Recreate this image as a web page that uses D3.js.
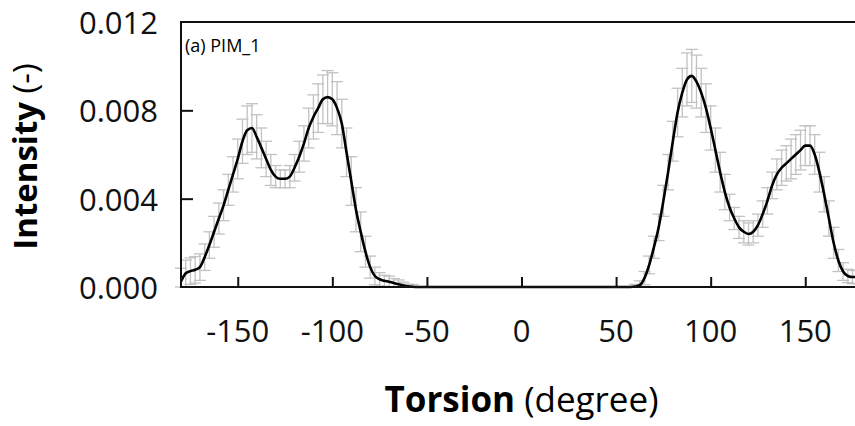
<!DOCTYPE html>
<html>
<head>
<meta charset="utf-8">
<script src="https://cdn.jsdelivr.net/npm/d3@7"></script>
<style>
	body { margin: 0; background: #fff; }
	svg { display: block; font-family: "Open Sans", sans-serif; }
</style>
</head>
<body>
<svg id="chart" width="855" height="426"></svg>
<script>
'use strict';

// torsion angle (degree) of each histogram bin
let torsion = [
	-180, -177.5, -175, -172.5, -170, -167.5, -165, -162.5, -160, -157.5,
	-155, -152.5, -150, -147.5, -145, -142.5, -140, -137.5, -135, -132.5,
	-130, -127.5, -125, -122.5, -120, -117.5, -115, -112.5, -110, -107.5,
	-105, -102.5, -100, -97.5, -95, -92.5, -90, -87.5, -85, -82.5,
	-80, -77.5, -75, -72.5, -70, -67.5, -65, -62.5, -60, -57.5, -55,
	57.5, 60, 62.5, 65, 67.5, 70, 72.5, 75, 77.5, 80,
	82.5, 85, 87.5, 90, 92.5, 95, 97.5, 100, 102.5, 105,
	107.5, 110, 112.5, 115, 117.5, 120, 122.5, 125, 127.5, 130,
	132.5, 135, 137.5, 140, 142.5, 145, 147.5, 150, 152.5, 155,
	157.5, 160, 162.5, 165, 167.5, 170, 172.5, 175, 177.5, 180
];

// mean intensity of each bin
let intensity = [
	0.00025, 0.00062, 0.00072, 0.00078, 0.00090, 0.00135, 0.0019, 0.0025, 0.0031, 0.0037,
	0.0044, 0.0051, 0.0058, 0.0066, 0.0071, 0.0072, 0.0068, 0.0063, 0.0058, 0.0053,
	0.0050, 0.0049, 0.0049, 0.0050, 0.0054, 0.0059, 0.0065, 0.0072, 0.0077, 0.0081,
	0.0085, 0.0086, 0.0085, 0.0081, 0.0074, 0.0061, 0.0048, 0.0035, 0.0025, 0.0016,
	0.0009, 0.0005, 0.00035, 0.00028, 0.00024, 0.00018, 0.00012, 0.00007, 0.00003, 0.00001, 0,
	0, 0.00002, 0.00008, 0.0004, 0.0010, 0.0018, 0.0027, 0.0039, 0.0052, 0.0066,
	0.0079, 0.0088, 0.0094, 0.00956, 0.0093, 0.0088, 0.0081, 0.0072, 0.0062, 0.0052,
	0.0043, 0.0036, 0.0031, 0.0027, 0.0025, 0.0024, 0.0025, 0.0028, 0.0033, 0.0039,
	0.0046, 0.0051, 0.0054, 0.0056, 0.0058, 0.0060, 0.0062, 0.0064, 0.0064, 0.0060,
	0.0052, 0.0042, 0.0031, 0.0020, 0.0012, 0.0007, 0.0005, 0.00045, 0.00045, 0.0004
];

// half length of each error bar
let errorHalf = [
	0.0006, 0.0006, 0.0006, 0.0006, 0.0006, 0.0006, 0.0006, 0.0007, 0.0007, 0.0007,
	0.0007, 0.0008, 0.0009, 0.0010, 0.0011, 0.0011, 0.0010, 0.0009, 0.0008, 0.0007,
	0.0005, 0.0004, 0.0004, 0.0005, 0.0006, 0.0007, 0.0008, 0.0009, 0.0010, 0.0011,
	0.0011, 0.0012, 0.0012, 0.0012, 0.0011, 0.0011, 0.0011, 0.0010, 0.0009, 0.0007,
	0.0005, 0.0004, 0.0003, 0.00025, 0.00025, 0.0002, 0.0002, 0.00015, 0.0001, 0.0001, 0,
	0, 0.0001, 0.0002, 0.0003, 0.0004, 0.0005, 0.0006, 0.0007, 0.0008, 0.0009,
	0.0011, 0.0011, 0.0012, 0.0012, 0.0012, 0.0011, 0.0011, 0.0010, 0.0010, 0.0009,
	0.0008, 0.0006, 0.0005, 0.0005, 0.0005, 0.0005, 0.0005, 0.0005, 0.0006, 0.0006,
	0.0006, 0.0007, 0.0008, 0.0008, 0.0009, 0.0009, 0.0009, 0.0009, 0.0009, 0.0009,
	0.0009, 0.0008, 0.0008, 0.0007, 0.0005, 0.0004, 0.0003, 0.0003, 0.0003, 0.0003
];

let xTicks = [-150, -100, -50, 0, 50, 100, 150];
let yTicks = [0, 0.004, 0.008, 0.012];

let svg = d3.select("#chart");

let x = d3.scaleLinear().domain([-180, 180]).range([181, 862]);
let y = d3.scaleLinear().domain([0, 0.012]).range([287, 22]);

let data = torsion.map(function(t, i){
	return { t: t, v: intensity[i], e: errorHalf[i] };
});

// error bars
let bars = svg.append("g")
	.attr("stroke", "#c2c2c2")
	.attr("stroke-width", 1.3)
	.selectAll("g")
	.data(data.filter(function(d){ return d.e > 0; }))
	.enter()
	.append("g");

let capW = 6;
bars.append("line")
	.attr("x1", function(d){ return x(d.t); })
	.attr("x2", function(d){ return x(d.t); })
	.attr("y1", function(d){ return y(Math.max(0, d.v - d.e)); })
	.attr("y2", function(d){ return y(d.v + d.e); });
bars.append("line")
	.attr("x1", function(d){ return x(d.t) - capW; })
	.attr("x2", function(d){ return x(d.t) + capW; })
	.attr("y1", function(d){ return y(d.v + d.e); })
	.attr("y2", function(d){ return y(d.v + d.e); });
bars.append("line")
	.attr("x1", function(d){ return x(d.t) - capW; })
	.attr("x2", function(d){ return x(d.t) + capW; })
	.attr("y1", function(d){ return y(Math.max(0, d.v - d.e)); })
	.attr("y2", function(d){ return y(Math.max(0, d.v - d.e)); });

// mean curve
let line = d3.line()
	.x(function(d){ return x(d.t); })
	.y(function(d){ return y(d.v); })
	.curve(d3.curveMonotoneX);

svg.append("path")
	.datum(data)
	.attr("fill", "none")
	.attr("stroke", "#000")
	.attr("stroke-width", 2.6)
	.attr("d", line);

// frame
svg.append("rect")
	.attr("x", x(-180))
	.attr("y", y(0.012))
	.attr("width", x(180) - x(-180))
	.attr("height", y(0) - y(0.012))
	.attr("fill", "none")
	.attr("stroke", "#111")
	.attr("stroke-width", 2);

// axes with inward ticks
let xAxis = svg.append("g")
	.attr("transform", "translate(0," + y(0) + ")")
	.call(d3.axisTop(x).tickValues(xTicks).tickSize(10).tickFormat(""));
xAxis.select(".domain").remove();
xAxis.selectAll("line").attr("stroke", "#111").attr("stroke-width", 2);

let yAxis = svg.append("g")
	.attr("transform", "translate(" + x(-180) + ",0)")
	.call(d3.axisRight(y).tickValues(yTicks.slice(1, 3)).tickSize(12).tickFormat(""));
yAxis.select(".domain").remove();
yAxis.selectAll("line").attr("stroke", "#111").attr("stroke-width", 2);

// tick labels
svg.append("g")
	.selectAll("text")
	.data(xTicks)
	.enter()
	.append("text")
	.attr("x", function(d){ return x(d); })
	.attr("y", 342)
	.attr("text-anchor", "middle")
	.attr("font-size", 31)
	.attr("fill", "#111")
	.text(function(d){ return d < 0 ? "-" + Math.abs(d) : d; });

svg.append("g")
	.selectAll("text")
	.data(yTicks)
	.enter()
	.append("text")
	.attr("x", 158)
	.attr("y", function(d){ return y(d) + 12; })
	.attr("text-anchor", "end")
	.attr("font-size", 31)
	.attr("fill", "#111")
	.text(d3.format(".3f"));

// axis titles
let xTitle = svg.append("text")
	.attr("x", (x(-180) + x(180)) / 2)
	.attr("y", 412)
	.attr("text-anchor", "middle")
	.attr("font-size", 35)
	.attr("fill", "#000");
xTitle.append("tspan").attr("font-weight", "bold").text("Torsion");
xTitle.append("tspan").text(" (degree)");

let yTitle = svg.append("text")
	.attr("transform", "translate(37," + ((y(0) + y(0.012)) / 2 + 2) + ") rotate(-90)")
	.attr("text-anchor", "middle")
	.attr("font-size", 33)
	.attr("fill", "#000");
yTitle.append("tspan").attr("font-weight", "bold").text("Intensity");
yTitle.append("tspan").text(" (-)");

// panel label
svg.append("text")
	.attr("x", 185)
	.attr("y", 52)
	.attr("font-size", 18)
	.attr("fill", "#000")
	.text("(a) PIM_1");
</script>
</body>
</html>
